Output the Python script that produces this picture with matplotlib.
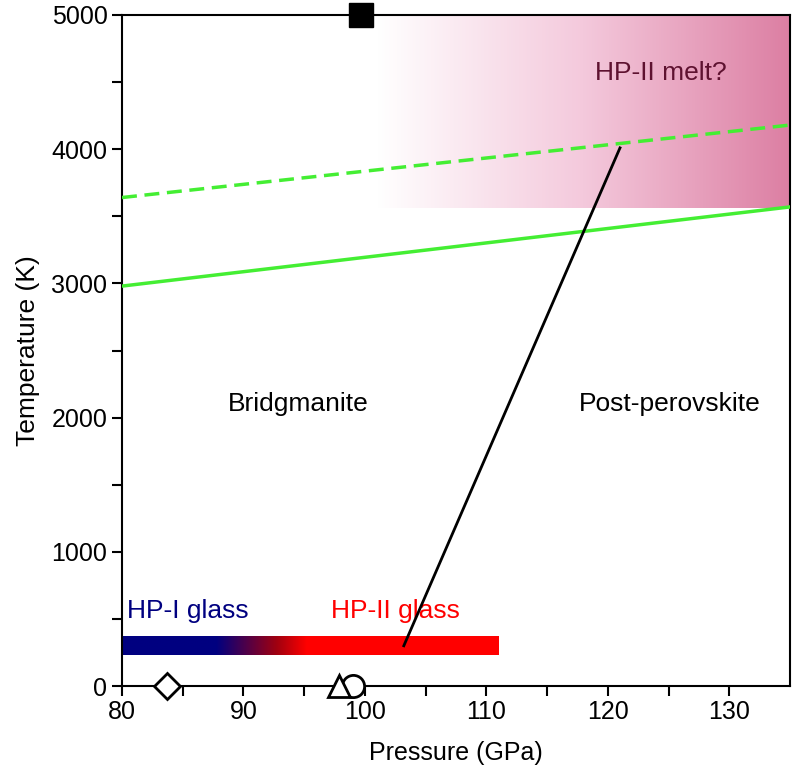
import numpy as np
import matplotlib
matplotlib.use("Agg")
import matplotlib.pyplot as plt
from matplotlib.colors import LinearSegmentedColormap

plt.rcParams['font.family'] = ['Liberation Sans', 'DejaVu Sans']

# Data
solid_P = [80, 135]
solid_T = [2980, 3570]
dashed_P = [80, 135]
dashed_T = [3640, 4180]
trans_P = [103.2, 121.0]
trans_T = [300, 4010]
bar_P = [80, 111]
bar_T = 300
melt_P = [101.0, 135]
melt_T = [3560, 5000]
diamond = (83.7, 0)
triangle = (97.9, 0)
circle = (99.0, 0)
square = (99.7, 5000)

fig = plt.figure(figsize=(7.96, 7.73), dpi=100)
ax = fig.add_axes([0.1533, 0.1125, 0.8392, 0.8681])
ax.set_xlim(80, 135)
ax.set_ylim(0, 5000)

# melt shading gradient
melt_cmap = LinearSegmentedColormap.from_list('melt', ['#ffffff', '#f4c9dc', '#dc7fa3'])
grad = np.linspace(0, 1, 256).reshape(1, -1)
ax.imshow(grad, extent=[melt_P[0], melt_P[1], melt_T[0], melt_T[1]], aspect='auto',
          cmap=melt_cmap, zorder=0, interpolation='bilinear')

# glass bar gradient
bar_cmap = LinearSegmentedColormap.from_list('bar', [(0, '#000080'), (0.25, '#000080'),
                                                     (0.41, '#a00010'), (0.49, '#ff0000'), (1, '#ff0000')])
ax.imshow(grad, extent=[bar_P[0], bar_P[1], bar_T - 70, bar_T + 70], aspect='auto',
          cmap=bar_cmap, zorder=2, interpolation='bilinear')

ax.plot(solid_P, solid_T, color='#44ee33', lw=2.5, zorder=3)
ax.plot(dashed_P, dashed_T, color='#44ee33', lw=2.5, ls=(0, (4.3, 2.2)), zorder=3)
ax.plot(trans_P, trans_T, color='black', lw=2, zorder=4)

ax.plot(*diamond, marker='D', ms=13, mfc='white', mec='black', mew=2, clip_on=False, zorder=5)
ax.plot(*circle, marker='o', ms=16, mfc='white', mec='black', mew=2, clip_on=False, zorder=5)
ax.plot(*triangle, marker='^', ms=16, mfc='white', mec='black', mew=2, clip_on=False, zorder=6)
ax.plot(*square, marker='s', ms=17, mfc='black', mec='black', clip_on=False, zorder=6)

ax.text(80.4, 560, 'HP-I glass', color='#000080', fontsize=19, ha='left', va='center')
ax.text(97.2, 560, 'HP-II glass', color='#ff0000', fontsize=19, ha='left', va='center')
ax.text(94.5, 2100, 'Bridgmanite', color='black', fontsize=19, ha='center', va='center')
ax.text(125.1, 2100, 'Post-perovskite', color='black', fontsize=19, ha='center', va='center')
ax.text(124.4, 4570, 'HP-II melt?', color='#5e1230', fontsize=19, ha='center', va='center')

ax.set_xticks([80, 90, 100, 110, 120, 130])
ax.set_xticks(np.arange(85, 135, 10), minor=True)
ax.set_yticks([0, 1000, 2000, 3000, 4000, 5000])
ax.set_yticks(np.arange(500, 5000, 1000), minor=True)
ax.tick_params(which='both', direction='out', width=1.5, labelsize=18)
ax.tick_params(which='major', length=7)
ax.tick_params(which='minor', length=7)
ax.tick_params(axis='x', pad=3)
for s in ax.spines.values():
    s.set_linewidth(1.5)
ax.set_xlabel('Pressure (GPa)', fontsize=18, labelpad=12)
ax.set_ylabel('Temperature (K)', fontsize=19, labelpad=8)

fig.savefig('out.png', dpi=100)
